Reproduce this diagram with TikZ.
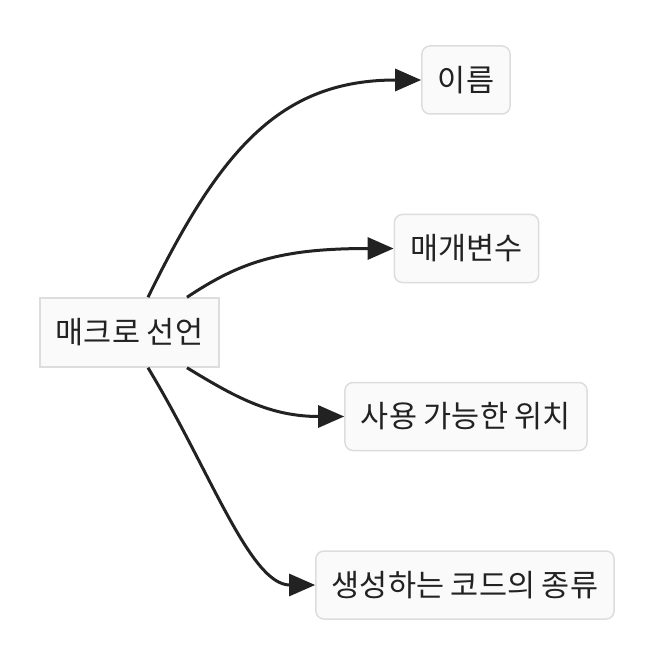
\documentclass[tikz,border=0pt]{standalone}
\usepackage{fontspec}
\newfontfamily\krfont{Noto Sans CJK KR}
\usepackage{tikz}
\usetikzlibrary{arrows.meta}

\definecolor{inkgray}{HTML}{222222}
\definecolor{boxfill}{HTML}{FAFAFA}
\definecolor{boxline}{HTML}{DDDDDD}

\tikzset{
	topicbox/.style={draw=boxline, fill=boxfill, line width=1.5pt, inner xsep=16pt,
		minimum height=68pt, text=inkgray, font=\krfont\fontsize{30.5}{34}\selectfont},
	leafbox/.style={topicbox, rounded corners=8pt},
	branch/.style={draw=inkgray, line width=3pt, -{Triangle[length=26pt,width=22pt]}}
}

\begin{document}
\begin{tikzpicture}[x=1pt, y=-1pt]

% canvas %{{{2

	\useasboundingbox (0,0) rectangle (670,658);

% nodes %{{{2

	\node[topicbox, minimum height=69pt] (root) at (129.5,332.5) {매크로 선언};

	\node[leafbox] (name)  at (466,80)    {이름};
	\node[leafbox] (param) at (466.5,248.5) {매개변수};
	\node[leafbox] (place) at (466,416.5) {사용 가능한 위치};
	\node[leafbox] (kind)  at (465,585)   {생성하는 코드의 종류};

% start points %{{{2

	\coordinate (rootNA) at ([xshift=18.5pt]root.north);
	\coordinate (rootNB) at ([xshift=57.5pt]root.north);
	\coordinate (rootSB) at ([xshift=57.5pt]root.south);
	\coordinate (rootSA) at ([xshift=18.5pt]root.south);

% branches %{{{2

	\draw[branch] (rootNA) .. controls (220,150) and (280,80) .. (name.west);
	\draw[branch] (rootNB) .. controls (240,262) and (280,248.5) .. (param.west);
	\draw[branch] (rootSB) .. controls (235,397) and (270,416.5) .. (place.west);
	\draw[branch] (rootSA) .. controls (210,470) and (250,585) .. (kind.west);

% closing %{{{2

\end{tikzpicture}
\end{document}
